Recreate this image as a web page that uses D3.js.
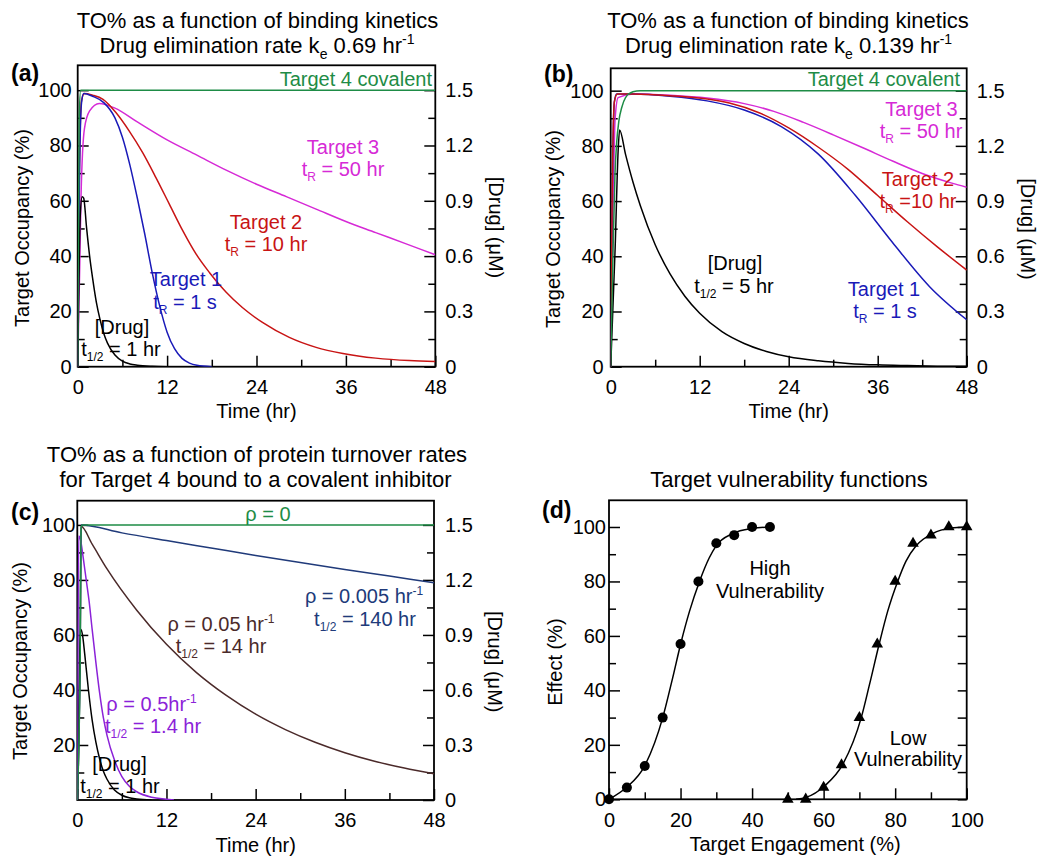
<!DOCTYPE html>
<html><head><meta charset="utf-8">
<script src="https://cdn.jsdelivr.net/npm/d3@7"></script>
<style>
body{margin:0;background:#fff;}
svg{font-family:"Liberation Sans",Arial,Helvetica,sans-serif;}
</style></head><body>
<svg id="chart" width="1050" height="868"></svg>
<script>
// ---------- tick values ----------
const timeMajor = [0, 12, 24, 36, 48];
const timeMinor = [6, 18, 30, 42];
const toMajor = [0, 20, 40, 60, 80, 100];
const toMajorC = [20, 40, 60, 80, 100];
const toMinor = [10, 30, 50, 70, 90];
const drugMajor = [0, 0.3, 0.6, 0.9, 1.2, 1.5];
const drugMinor = [0.15, 0.45, 0.75, 1.05, 1.35];
const teMajor = [0, 20, 40, 60, 80, 100];
const teMinor = [10, 30, 50, 70, 90];
const effTicks = [0, 10, 20, 30, 40, 50, 60, 70, 80, 90, 100];

// ---------- panel (a): [time hr, TO %] ----------
const aTarget4 = [[0,0],[0.2,90],[0.4,100],[48,100]];
const aTarget1 = [[0,0],[0.2,60],[0.5,95],[0.8,98.8],[2,97.8],[3.5,95.5],[5,90],[6,83],[7,73],[8,61],[9,48],[10,34],[11,22],[12,12.5],[13,6.5],[14,3],[15,1.3],[16,0.5],[18,0]];
const aTarget2 = [[0,0],[0.2,65],[0.5,96],[0.9,98.8],[2,98.2],[3.4,96.7],[5.1,92],[6.9,85.3],[8.7,77.5],[10.5,68.4],[12.3,58.8],[14.1,49.2],[15.9,40.7],[17.7,34],[19.9,27],[22.1,21.4],[24.8,16],[28.4,10.6],[32,7],[35.6,4.8],[40,3.1],[44.5,2.2],[48,1.9]];
const aTarget3 = [[0,0],[0.3,40],[0.45,62],[0.9,86],[1.6,92.5],[2.9,95.2],[5,93.5],[8,88.5],[12,82],[16,76.5],[20,71],[24,66],[28,61.5],[32,57],[36,52.5],[40,48.5],[44,44.5],[48,40.5]];
// drug concentration, µM
const aDrug = [[0,0],[0.15,0.45],[0.35,0.825],[0.6,0.922],[0.8,0.915],[1.2,0.75],[1.6,0.6],[2,0.48],[2.5,0.35],[3,0.255],[3.5,0.18],[4,0.128],[5,0.063],[6,0.03],[7,0.015],[8,0.008],[10,0.002],[12,0]];

// ---------- panel (b) ----------
const bTarget4 = [[0,0],[0.3,40],[0.58,70],[0.8,81],[1.1,89],[1.5,94],[2,97.5],[3,99.6],[4,100],[48,100]];
const bTarget1 = [[0,0],[0.2,60],[0.5,96],[0.8,98.8],[3,98.8],[8,98],[13,96.3],[18,93],[23,87],[28,77],[33,62],[38,45],[43,29],[48,17]];
const bTarget2 = [[0,0],[0.2,62],[0.5,96],[0.9,98.8],[3,98.8],[8,98.2],[13,97],[16,95.5],[20,92],[24,86.5],[28,79.5],[32,71.5],[36,62],[40,52.5],[44,43.5],[48,35]];
const bTarget3 = [[0,0],[0.3,55],[0.6,90],[1,97.5],[3,98.8],[8,98.3],[13,97.3],[18,95.3],[22,92.5],[26,88.5],[30,84],[34,79.3],[38,74.5],[42,70],[46,66.5],[48,65]];
const bDrug = [[0,0],[0.6,0.645],[1.0,1.17],[1.2,1.286],[2,1.154],[3,1.004],[4,0.875],[6,0.663],[8,0.504],[10,0.383],[12,0.29],[15,0.19],[18,0.126],[21,0.083],[24,0.054],[28,0.032],[32,0.018],[36,0.01],[40,0.006],[44,0.003],[48,0.002]];

// ---------- panel (c) ----------
const cRho0 = [[0,0],[0.4,55],[0.5,99],[0.7,100],[48,100]];
const cRho0005 = [[0,0],[0.4,60],[0.5,100],[6,97.1],[12,94.3],[18,91.6],[24,88.9],[30,86.3],[36,83.8],[42,81.4],[48,79]];
const cRho005 = [[0,0],[0.4,60],[0.5,99.5],[2,93],[4,84],[8,69],[12,56.6],[16,46.4],[20,38.1],[24,31.2],[28,25.6],[32,21],[36,17.2],[40,14.1],[44,11.6],[48,9.5]];
const cRho05 = [[0,0],[0.1,60],[0.2,96],[0.4,95],[0.8,88],[1.2,80],[1.6,72],[2,62],[2.5,50],[3,39],[3.5,30],[4,23.5],[5,14.5],[6,8.5],[7,5],[8,3],[10,1],[12,0.3],[13,0]];
const cDrug = [[0,0],[0.15,0.375],[0.3,0.75],[0.5,0.93],[0.7,0.9],[1,0.795],[1.5,0.6],[2,0.435],[2.5,0.315],[3,0.225],[3.5,0.158],[4,0.113],[5,0.054],[6,0.026],[7,0.012],[8,0.006],[10,0]];

// ---------- panel (d): target engagement % vs effect % ----------
const highX = [0, 5, 10, 15, 20, 25, 30, 35, 40, 45];
const highY = [0, 4.3, 12.2, 30, 57, 80, 94, 97, 100, 100];
const lowX = [50, 55, 60, 65, 70, 75, 80, 85, 90, 95, 100];
const lowY = [0, 0, 4.4, 12.6, 30, 57, 80, 94, 97, 100, 100];
const highFit = [[0,0],[5,4.5],[9.9,12.1],[15,29.9],[17.8,44.6],[20.1,57.4],[22.5,69],[25.3,80],[28,88.6],[29.9,93],[34.6,97.6],[40.2,99.5],[45,100]];
const lowFit = [[52.3,0],[55.1,0.7],[60.2,4.8],[65.3,12.7],[70.5,29.9],[72.8,42],[75.6,57.4],[77.9,69],[80.7,80],[83,87.4],[85.8,93],[90.5,97.6],[95.6,99.6],[100,100]];

// ---------- colours ----------
const GREEN = "#1e8c46", BLUE = "#1a1ab8", RED = "#c81414", MAGENTA = "#d62ad6",
      NAVY = "#203a7a", BROWN = "#4b2a2a", PURPLE = "#8b22d8", BLACK = "#000";

const svg = d3.select("#chart");

function styleAxis(sel) {
  sel.attr("font-size", 20).attr("font-family", null);
  sel.select(".domain").remove();
  sel.selectAll(".tick line").attr("stroke", "#000").attr("stroke-width", 1.5);
  sel.selectAll(".tick text").attr("fill", "#000");
}

function makePanel(o) {
  const x = d3.scaleLinear().domain(o.xDomain).range([o.left, o.right]);
  const y = d3.scaleLinear().domain([0, o.yMax]).range([o.bottom, o.top]);
  const y2 = o.drug ? d3.scaleLinear().domain([0, 1.5 * o.yMax / 100]).range([o.bottom, o.top]) : null;
  const clipId = "clip-" + o.id;
  svg.append("clipPath").attr("id", clipId).append("rect")
    .attr("x", o.left).attr("y", o.top).attr("width", o.right - o.left).attr("height", o.bottom - o.top);

  // bottom
  svg.append("g").attr("transform", `translate(0,${o.bottom})`)
    .call(d3.axisBottom(x).tickValues(o.xMinor).tickSize(-7).tickFormat("")).call(styleAxis);
  svg.append("g").attr("transform", `translate(0,${o.bottom})`)
    .call(d3.axisBottom(x).tickValues(o.xMajor).tickSize(-11).tickPadding(o.padB).tickFormat(d => d)).call(styleAxis);
  // left
  svg.append("g").attr("transform", `translate(${o.left},0)`)
    .call(d3.axisLeft(y).tickValues(o.yMinor).tickSize(-7).tickFormat("")).call(styleAxis);
  svg.append("g").attr("transform", `translate(${o.left},0)`)
    .call(d3.axisLeft(y).tickValues(o.yMajor).tickSize(-11).tickPadding(o.padL).tickFormat(d => d)).call(styleAxis);
  // right
  if (y2) {
    svg.append("g").attr("transform", `translate(${o.right},0)`)
      .call(d3.axisRight(y2).tickValues(drugMinor).tickSize(-7).tickFormat("")).call(styleAxis);
    svg.append("g").attr("transform", `translate(${o.right},0)`)
      .call(d3.axisRight(y2).tickValues(drugMajor).tickSize(-11).tickPadding(o.padR)
        .tickFormat(d => d === 0 ? "0" : d3.format(".1f")(d))).call(styleAxis);
  } else {
    svg.append("g").attr("transform", `translate(${o.right},0)`)
      .call(d3.axisRight(y).tickValues(o.yRight).tickSize(-9).tickFormat("")).call(styleAxis);
  }
  // frame
  svg.append("rect").attr("x", o.left).attr("y", o.top)
    .attr("width", o.right - o.left).attr("height", o.bottom - o.top)
    .attr("fill", "none").attr("stroke", "#000").attr("stroke-width", 1.8);

  const plot = svg.append("g").attr("clip-path", `url(#${clipId})`);
  return { x, y, y2, plot };
}

function rich(x, y, parts, opt = {}) {
  const t = svg.append("text").attr("x", x).attr("y", y)
    .attr("text-anchor", opt.anchor || "middle")
    .attr("font-size", opt.size || 20)
    .attr("font-weight", opt.weight || null)
    .attr("fill", opt.color || "#000");
  if (opt.rotate) t.attr("transform", `rotate(${opt.rotate},${x},${y})`);
  let shift = 0;
  const small = Math.round((opt.size || 20) * 0.62);
  parts.forEach(p => {
    if (typeof p === "string") {
      t.append("tspan").attr("dy", -shift).text(p); shift = 0;
    } else if (p.sub !== undefined) {
      const s = Math.round((opt.size || 20) * 0.25);
      t.append("tspan").attr("dy", s - shift).attr("font-size", small).text(p.sub); shift = s;
    } else if (p.sup !== undefined) {
      const s = -Math.round((opt.size || 20) * 0.42);
      t.append("tspan").attr("dy", s - shift).attr("font-size", small).text(p.sup); shift = s;
    }
  });
  return t;
}

function drawLine(P, data, color, useDrug) {
  const yy = useDrug ? P.y2 : P.y;
  P.plot.append("path").datum(data)
    .attr("fill", "none").attr("stroke", color).attr("stroke-width", 1.5)
    .attr("d", d3.line().x(d => P.x(d[0])).y(d => yy(d[1])).curve(d3.curveMonotoneX));
}

// ================= Panel (a) =================
const A = makePanel({ id: "a", left: 77.7, right: 435.3, top: 65.3, bottom: 366.7, xDomain: [0, 48], yMax: 109,
  xMajor: timeMajor, xMinor: timeMinor, yMajor: toMajor, yMinor: toMinor, drug: true, padL: 6, padR: 10, padB: 13 });
drawLine(A, aTarget3, MAGENTA);
drawLine(A, aTarget2, RED);
drawLine(A, aTarget1, BLUE);
drawLine(A, aDrug, BLACK, true);
drawLine(A, aTarget4, GREEN);

rich(257.5, 27.5, ["TO% as a function of binding kinetics"], { size: 22 });
rich(257, 53, ["Drug elimination rate k", { sub: "e" }, " 0.69 hr", { sup: "-1" }], { size: 22 });
rich(11, 81, ["(a)"], { size: 23, weight: "bold", anchor: "start" });
rich(28.5, 228, ["Target Occupancy (%)"], { rotate: -90 });
rich(489, 227.5, ["[Drug] (μM)"], { rotate: 90 });
rich(256.5, 418, ["Time (hr)"]);
rich(432, 86, ["Target 4 covalent"], { anchor: "end", color: GREEN });
rich(343, 154, ["Target 3"], { color: MAGENTA });
rich(343, 176, ["t", { sub: "R" }, " = 50 hr"], { color: MAGENTA });
rich(266, 229, ["Target 2"], { color: RED });
rich(266, 251, ["t", { sub: "R" }, " = 10 hr"], { color: RED });
rich(186, 286, ["Target 1"], { color: BLUE });
rich(185, 309, ["t", { sub: "R" }, " = 1 s"], { color: BLUE });
rich(122, 334, ["[Drug]"]);
rich(121, 356, ["t", { sub: "1/2" }, " = 1 hr"]);

// ================= Panel (b) =================
const B = makePanel({ id: "b", left: 610.7, right: 966.7, top: 68.3, bottom: 366.7, xDomain: [0, 48], yMax: 108.1,
  xMajor: timeMajor, xMinor: timeMinor, yMajor: toMajor, yMinor: toMinor, drug: true, padL: 7, padR: 10, padB: 13 });
drawLine(B, bTarget3, MAGENTA);
drawLine(B, bTarget1, BLUE);
drawLine(B, bTarget2, RED);
drawLine(B, bDrug, BLACK, true);
drawLine(B, bTarget4, GREEN);

rich(788, 27.5, ["TO% as a function of binding kinetics"], { size: 22 });
rich(788.5, 53, ["Drug elimination rate k", { sub: "e" }, " 0.139 hr", { sup: "-1" }], { size: 22 });
rich(544, 82, ["(b)"], { size: 23, weight: "bold", anchor: "start" });
rich(560, 229, ["Target Occupancy (%)"], { rotate: -90 });
rich(1021, 229, ["[Drug] (μM)"], { rotate: 90 });
rich(788.7, 418, ["Time (hr)"]);
rich(960, 86, ["Target 4 covalent"], { anchor: "end", color: GREEN });
rich(921.5, 116, ["Target 3"], { color: MAGENTA });
rich(921, 138, ["t", { sub: "R" }, " = 50 hr"], { color: MAGENTA });
rich(918, 186, ["Target 2"], { color: RED });
rich(918, 208, ["t", { sub: "R" }, " =10 hr"], { color: RED });
rich(884, 296, ["Target 1"], { color: BLUE });
rich(885, 318, ["t", { sub: "R" }, " = 1 s"], { color: BLUE });
rich(735, 269.5, ["[Drug]"]);
rich(734, 292.5, ["t", { sub: "1/2" }, " = 5 hr"]);

// ================= Panel (c) =================
const C = makePanel({ id: "c", left: 77.3, right: 434, top: 500.7, bottom: 800, xDomain: [0, 48], yMax: 108.8,
  xMajor: timeMajor, xMinor: timeMinor, yMajor: toMajorC, yMinor: toMinor, drug: true, padL: 2, padR: 11, padB: 13 });
drawLine(C, cRho005, BROWN);
drawLine(C, cRho0005, NAVY);
drawLine(C, cDrug, BLACK, true);
drawLine(C, cRho05, PURPLE);
drawLine(C, cRho0, GREEN);

rich(257, 461.7, ["TO% as a function of protein turnover rates"], { size: 22 });
rich(255.5, 486.7, ["for Target 4 bound to a covalent inhibitor"], { size: 22 });
rich(11, 520, ["(c)"], { size: 23, weight: "bold", anchor: "start" });
rich(27, 661, ["Target Occupancy (%)"], { rotate: -90 });
rich(488, 661.7, ["[Drug] (μM)"], { rotate: 90 });
rich(255.7, 852, ["Time (hr)"]);
rich(268, 521, ["ρ = 0"], { color: GREEN });
rich(364, 602.5, ["ρ = 0.005 hr", { sup: "-1" }], { color: NAVY });
rich(365, 626, ["t", { sub: "1/2" }, " = 140 hr"], { color: NAVY });
rich(221, 631, ["ρ = 0.05 hr", { sup: "-1" }], { color: BROWN });
rich(221, 652.5, ["t", { sub: "1/2" }, " = 14 hr"], { color: BROWN });
rich(151.5, 711, ["ρ = 0.5hr", { sup: "-1" }], { color: PURPLE });
rich(153, 732.5, ["t", { sub: "1/2" }, " = 1.4 hr"], { color: PURPLE });
rich(119.5, 771, ["[Drug]"]);
rich(120, 792.5, ["t", { sub: "1/2" }, " = 1 hr"]);

// ================= Panel (d) =================
const D = makePanel({ id: "d", left: 609, right: 966.7, top: 500.3, bottom: 799.3, xDomain: [0, 100], yMax: 109.8,
  xMajor: teMajor, xMinor: teMinor, yMajor: toMajor, yMinor: toMinor, yRight: effTicks, drug: false, padL: 3, padB: 14 });
drawLine(D, highFit, BLACK);
drawLine(D, lowFit, BLACK);
svg.append("g").selectAll("circle").data(highX).join("circle")
  .attr("cx", (d) => D.x(d)).attr("cy", (d, i) => D.y(highY[i])).attr("r", 5).attr("fill", "#000");
svg.append("g").selectAll("path").data(lowX).join("path")
  .attr("transform", (d, i) => `translate(${D.x(d)},${D.y(lowY[i])})`)
  .attr("d", d3.symbol(d3.symbolTriangle, 58)).attr("fill", "#000");

rich(789, 486.7, ["Target vulnerability functions"], { size: 22 });
rich(542, 518, ["(d)"], { size: 23, weight: "bold", anchor: "start" });
rich(562, 662, ["Effect (%)"], { rotate: -90 });
rich(795, 851, ["Target Engagement (%)"]);
rich(770, 574.5, ["High"]);
rich(770, 597.5, ["Vulnerability"]);
rich(908, 744.5, ["Low"]);
rich(908, 766, ["Vulnerability"]);
</script>
</body></html>
